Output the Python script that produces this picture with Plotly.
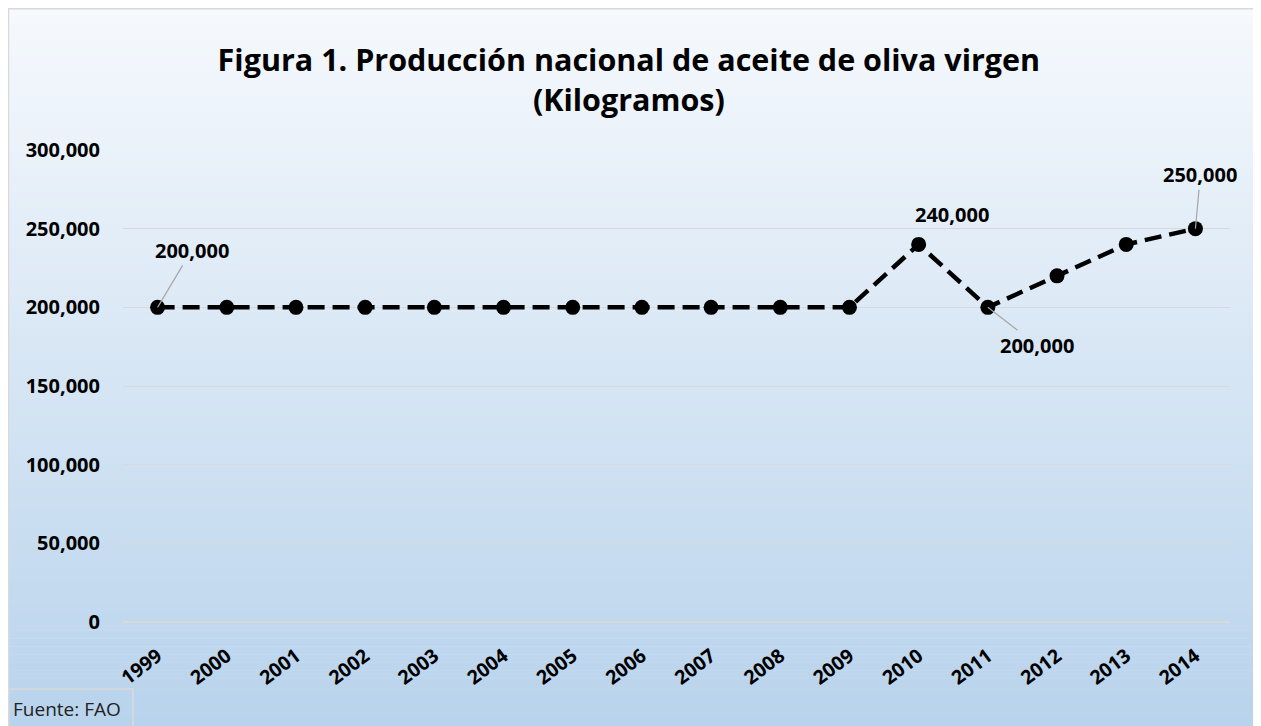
import plotly.graph_objects as go

years = ["1999", "2000", "2001", "2002", "2003", "2004", "2005", "2006",
         "2007", "2008", "2009", "2010", "2011", "2012", "2013", "2014"]
production = [200000, 200000, 200000, 200000, 200000, 200000, 200000, 200000,
              200000, 200000, 200000, 240000, 200000, 220000, 240000, 250000]
labeled_years = ["1999", "2010", "2011", "2014"]
y_ticks = [0, 50000, 100000, 150000, 200000, 250000, 300000]

title_text = "Figura 1. Producción nacional de aceite de oliva virgen<br>(Kilogramos)"
source_text = "Fuente: FAO"

FONT = "Open Sans, sans-serif"
# page body has an 8px margin, so the figure is drawn 8px smaller
W, H = 1253, 718
L, R, T, B = 115, 31, 142, 104
pw, ph = W - L - R, H - T - B

def px_to_paper_x(px):
    return (px - L) / pw

def px_to_paper_y(py):
    return (H - B - py) / ph

fig = go.Figure()
fig.add_trace(go.Scatter(
    x=years, y=production, mode="lines+markers",
    line=dict(color="black", width=4.5, dash="17px,8px"),
    marker=dict(color="black", size=15),
    hoverinfo="x+y", showlegend=False,
))

# gradient background bands
top_c = (246, 249, 253)
bot_c = (184, 211, 236)
shapes = []
y0px, y1px = 0, 718
n = 90
for i in range(n):
    a = y0px + (y1px - y0px) * i / n
    b = y0px + (y1px - y0px) * (i + 1) / n
    t = (i + 0.5) / n
    c = tuple(round(top_c[k] + (bot_c[k] - top_c[k]) * t) for k in range(3))
    shapes.append(dict(type="rect", xref="paper", yref="paper", layer="below",
                       x0=px_to_paper_x(0), x1=px_to_paper_x(1250),
                       y0=px_to_paper_y(b + 0.6), y1=px_to_paper_y(a),
                       line=dict(width=0), fillcolor="rgb(%d,%d,%d)" % c))
# outer border
shapes.append(dict(type="rect", xref="paper", yref="paper", layer="above",
                   x0=px_to_paper_x(0.5), x1=px_to_paper_x(1250),
                   y0=px_to_paper_y(730), y1=px_to_paper_y(0.8),
                   line=dict(width=1.5, color="#d9d9d9"), fillcolor="rgba(0,0,0,0)"))
# source box
shapes.append(dict(type="rect", xref="paper", yref="paper", layer="above",
                   x0=px_to_paper_x(0.5), x1=px_to_paper_x(125),
                   y0=px_to_paper_y(730), y1=px_to_paper_y(681),
                   line=dict(width=1.5, color="#d9d9d9"), fillcolor="rgba(0,0,0,0)"))

offsets = {"1999": (34, -57), "2010": (33, -30),
           "2011": (49, 38), "2014": (5, -54)}
annotations = []
for yr in labeled_years:
    idx = years.index(yr)
    ax, ay = offsets[yr]
    show_arrow_line = yr != "2010"
    annotations.append(dict(
        x=idx, y=production[idx], xref="x", yref="y",
        text="{:,}".format(production[idx]),
        showarrow=True, arrowhead=0, arrowwidth=1.2,
        arrowcolor="#a6a6a6" if show_arrow_line else "rgba(0,0,0,0)",
        ax=ax, ay=ay, standoff=0, startstandoff=0,
        font=dict(family=FONT, size=20, color="black", weight="bold"),
    ))
annotations.append(dict(
    text=source_text, xref="paper", yref="paper",
    x=px_to_paper_x(3), y=px_to_paper_y(701), xanchor="left", yanchor="middle",
    showarrow=False, font=dict(family=FONT, size=19, color="#222"),
))

fig.update_layout(
    width=W, height=H,
    margin=dict(l=L, r=R, t=T, b=B, autoexpand=False),
    paper_bgcolor="white", plot_bgcolor="rgba(0,0,0,0)",
    title=dict(text=title_text, x=0.4955, xref="container", xanchor="center",
               y=1 - 63 / H, yanchor="middle",
               font=dict(family=FONT, size=30.5, color="black", weight="bold")),
    xaxis=dict(type="category", showgrid=False, showline=False, ticks="",
               tickangle=-37, range=[-0.5, len(years) - 0.5],
               tickfont=dict(family=FONT, size=19.5, color="black", weight="bold"),
               ticklabelstandoff=18),
    yaxis=dict(range=[0, 300000], tickvals=y_ticks, tickformat=",d",
               showgrid=True, gridcolor="#d9d9d9", gridwidth=1,
               zeroline=True, zerolinecolor="#d9d9d9", zerolinewidth=1.5,
               showline=False, ticks="", ticklabelstandoff=22,
               tickfont=dict(family=FONT, size=20, color="black", weight="bold")),
    shapes=shapes, annotations=annotations,
)

fig.write_html("out.html")
